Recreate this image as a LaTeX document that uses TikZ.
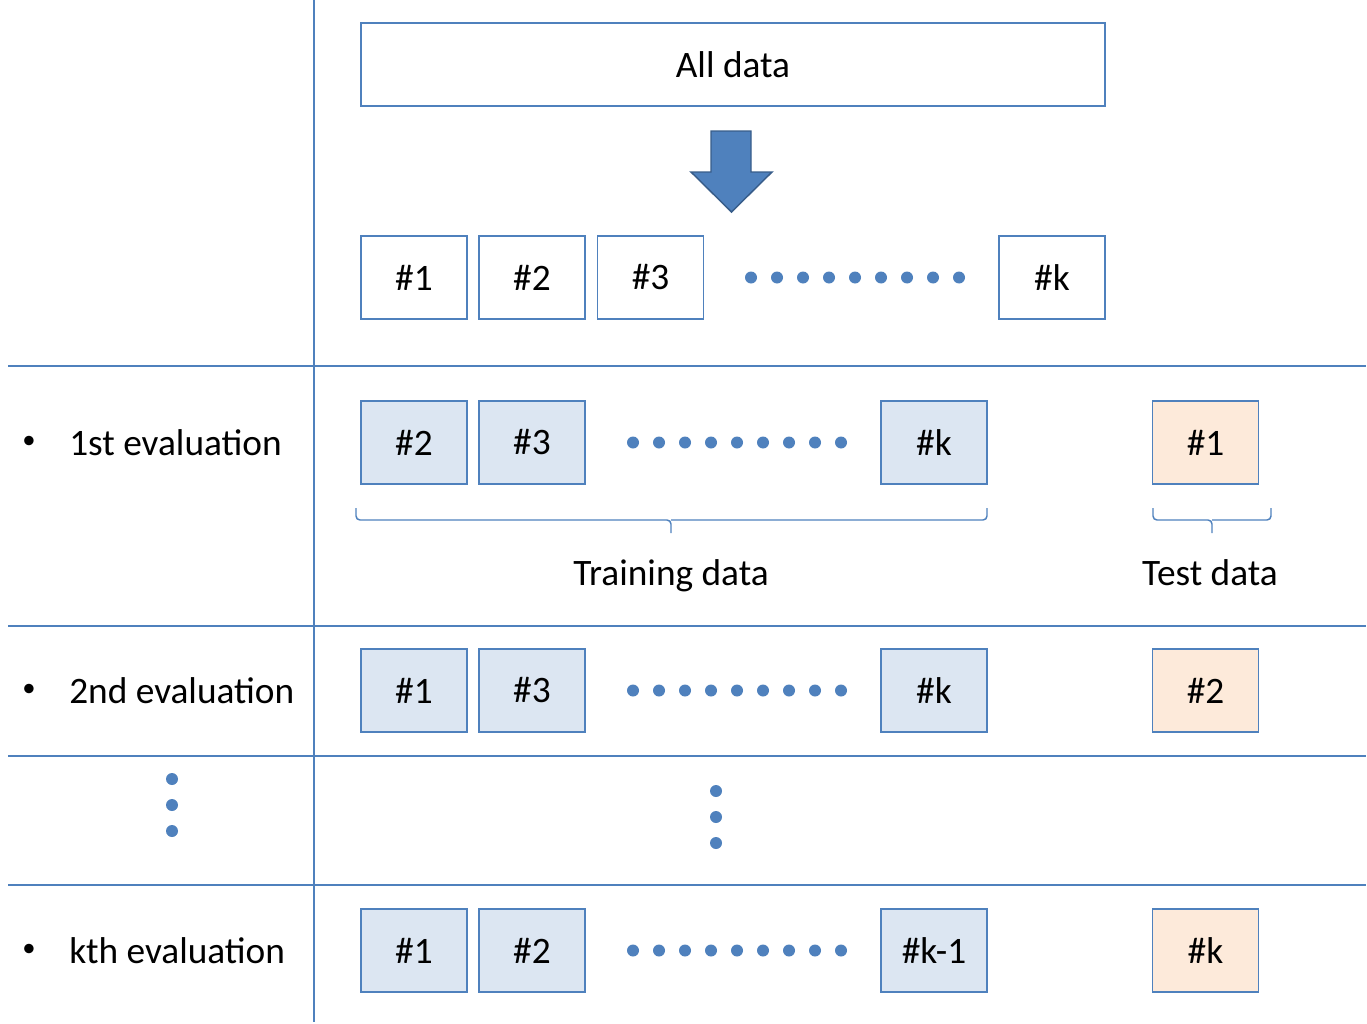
\documentclass[tikz,border=0pt]{standalone}
\usepackage{fontspec}
\setmainfont{Carlito}
\definecolor{officeblue}{HTML}{4F81BD}
\definecolor{darkblue}{HTML}{385D8A}
\definecolor{trainfill}{HTML}{DCE6F2}
\definecolor{testfill}{HTML}{FDEADA}

\begin{document}
\begin{tikzpicture}[x=0.75pt, y=-0.75pt,
        fold/.style={draw=officeblue, line width=1.1pt, minimum width=79.5pt, minimum height=62.25pt, inner sep=0pt, font=\fontsize{28}{32}\selectfont},
        train/.style={fold, fill=trainfill},
        test/.style={fold, fill=testfill},
        sep/.style={draw=officeblue, line width=1.1pt},
        dot/.style={circle, fill=officeblue, inner sep=0pt, minimum size=9pt},
        lbl/.style={font=\fontsize{28}{32}\selectfont, inner sep=0pt},
        bul/.style={font=\fontsize{20}{24}\selectfont, inner sep=0pt}]
        \useasboundingbox (0,0) rectangle (1367,1024);

        % grid
        \draw[sep] (314,0) -- (314,1022);
        \draw[sep] (8,366) -- (1366,366);
        \draw[sep] (8,626) -- (1366,626);
        \draw[sep] (8,756) -- (1366,756);
        \draw[sep] (8,885) -- (1366,885);

        % all data and folds
        \node[fold, minimum width=558pt] (all) at (733,64.5) {All data};
        \draw[fill=officeblue, draw=darkblue, line width=1.1pt] (711,131) -- (751,131) -- (751,172) -- (772,172) -- (731.5,212) -- (691,172) -- (711,172) -- cycle;

        \node[fold] (f1) at (414,277.5) {\#1};
        \node[fold] (f2) at (532,277.5) {\#2};
        \node[fold] (f3) at (650.5,277.5) {\#3};
        \node[fold] (fk) at (1052,277.5) {\#k};
        \foreach \i in {0,...,8}
            \node[dot] (d0\i) at (751+26*\i,277.5) {};

        % 1st evaluation
        \node[bul] (b1) at (29,442.5) {\textbullet};
        \node[lbl, anchor=west] (e1) at (69,442.5) {1st evaluation};
        \node[train] (a2) at (414,442.5) {\#2};
        \node[train] (a3) at (532,442.5) {\#3};
        \node[train] (ak) at (934,442.5) {\#k};
        \node[test] (a1) at (1205.5,442.5) {\#1};
        \foreach \i in {0,...,8}
            \node[dot] (d1\i) at (633+26*\i,442.5) {};

        \draw[sep, rounded corners=3pt] (356,508) -- (356,520) -- (671,520) -- (671,533);
        \draw[sep, rounded corners=3pt] (987,508) -- (987,520) -- (671,520);
        \draw[sep, rounded corners=3pt] (1153,508) -- (1153,520) -- (1212,520) -- (1212,533);
        \draw[sep, rounded corners=3pt] (1271,508) -- (1271,520) -- (1212,520);
        \node[lbl, anchor=base] (train) at (671,585) {Training data};
        \node[lbl, anchor=base] (test) at (1210,585) {Test data};

        % 2nd evaluation
        \node[bul] (b2) at (29,690.5) {\textbullet};
        \node[lbl, anchor=west] (e2) at (69,690.5) {2nd evaluation};
        \node[train] (c1) at (414,690.5) {\#1};
        \node[train] (c3) at (532,690.5) {\#3};
        \node[train] (ck) at (934,690.5) {\#k};
        \node[test] (c2) at (1205.5,690.5) {\#2};
        \foreach \i in {0,...,8}
            \node[dot] (d2\i) at (633+26*\i,690.5) {};

        % vertical dots
        \foreach \i in {0,1,2} {
            \node[dot] (vl\i) at (172,779+26*\i) {};
            \node[dot] (vm\i) at (716,791+26*\i) {};
        }

        % kth evaluation
        \node[bul] (bk) at (29,950.5) {\textbullet};
        \node[lbl, anchor=west] (ek) at (69,950.5) {kth evaluation};
        \node[train] (g1) at (414,950.5) {\#1};
        \node[train] (g2) at (532,950.5) {\#2};
        \node[train] (gk1) at (934,950.5) {\#k-1};
        \node[test] (gk) at (1205.5,950.5) {\#k};
        \foreach \i in {0,...,8}
            \node[dot] (d3\i) at (633+26*\i,950.5) {};
\end{tikzpicture}
\end{document}
